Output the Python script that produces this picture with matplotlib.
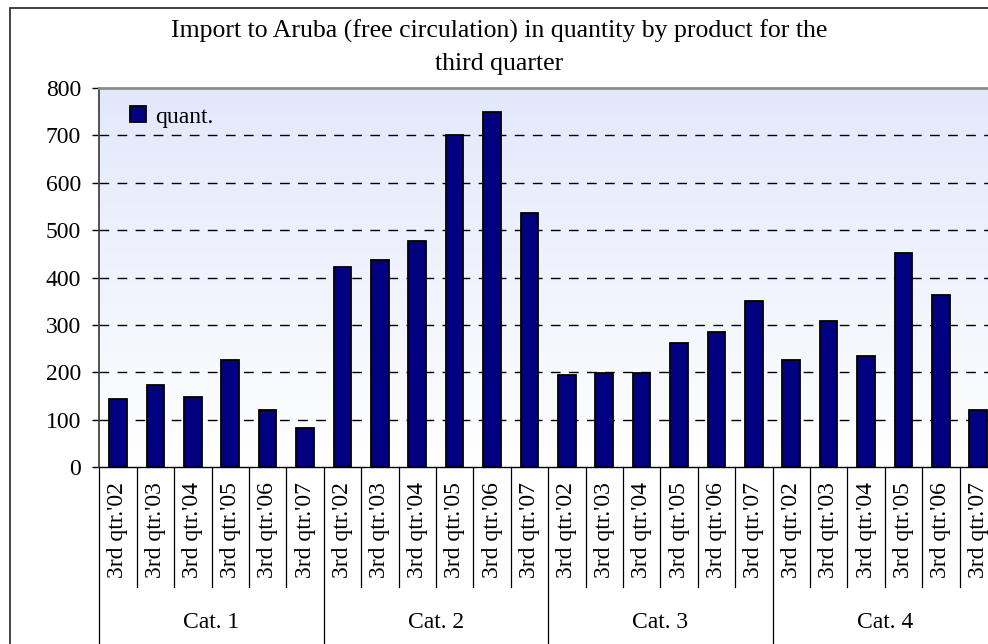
import numpy as np
import matplotlib

matplotlib.use("Agg")
import matplotlib.pyplot as plt
from matplotlib.patches import Rectangle

plt.rcParams["font.family"] = ["Liberation Serif", "DejaVu Serif"]

# data
categories = ["Cat. 1", "Cat. 2", "Cat. 3", "Cat. 4"]
quarters = ["3rd qtr.'02", "3rd qtr.'03", "3rd qtr.'04", "3rd qtr.'05", "3rd qtr.'06", "3rd qtr.'07"]
cat1 = [143, 174, 147, 225, 120, 83]
cat2 = [423, 437, 478, 700, 750, 537]
cat3 = [194, 198, 198, 262, 285, 350]
cat4 = [225, 308, 235, 451, 364, 120]
series_label = "quant."
title = "Import to Aruba (free circulation) in quantity by product for the\nthird quarter"
y_ticks = [0, 100, 200, 300, 400, 500, 600, 700, 800]

W, H = 988, 644
FS = 17

values = cat1 + cat2 + cat3 + cat4
n_per = len(quarters)
n = len(values)
x = np.arange(n)

fig = plt.figure(figsize=(W / 100, H / 100), dpi=100)
x0, x1 = 99.3, 99.3 + 24 * 37.4
y_top, y_zero = 88, 467
ax = fig.add_axes([x0 / W, (H - y_zero) / H, (x1 - x0) / W, (y_zero - y_top) / H])

# outer chart frame
fig.patches.append(Rectangle((10 / W, -0.1), 1.2, 1.1 - 8 / H, transform=fig.transFigure,
                             fill=False, edgecolor="#333333", linewidth=1.3))

# background gradient of the plot area: light blue at top fading to white
grad = np.linspace(0, 1, 256).reshape(-1, 1)
top_c = np.array([226, 232, 252]) / 255
bot_c = np.array([255, 255, 255]) / 255
img = top_c * (1 - grad[..., None]) + bot_c * grad[..., None]
img = np.repeat(img, 2, axis=1)
ax.imshow(img, extent=(-0.5, n - 0.5, 0, 800), aspect="auto", zorder=0, origin="upper")

ax.bar(x, values, width=0.47, color="#000080", edgecolor="black", linewidth=1.3,
       label=series_label, zorder=3)

ax.set_xlim(-0.5, n - 0.5)
ax.set_ylim(0, 800)
ax.set_yticks(y_ticks)
ax.tick_params(axis="y", direction="out", length=5, width=1, pad=8, labelsize=FS, colors="black")
for yv in y_ticks[1:-1]:
    ax.axhline(yv, color="black", linewidth=1, linestyle=(0, (7, 6)), zorder=1)

ax.set_xticks(x)
ax.set_xticklabels(quarters * len(categories), rotation=90, va="top", fontsize=FS)
ax.tick_params(axis="x", length=0, pad=11)

ax.spines["top"].set_color("#8c8c8c")
ax.spines["top"].set_linewidth(2)
ax.spines["left"].set_color("#444444")
ax.spines["left"].set_linewidth(1.3)
ax.spines["bottom"].set_color("black")
ax.spines["bottom"].set_linewidth(1)
ax.spines["right"].set_visible(False)

# separators under the axis
xt = ax.get_xaxis_transform()
low_short = (y_zero - 587) / (y_zero - y_top)
low_long = (y_zero - 660) / (y_zero - y_top)
for i in range(n + 1):
    xb = i - 0.5
    bottom = low_long if i % n_per == 0 else low_short
    ax.plot([xb, xb], [0, bottom], transform=xt, color="black", linewidth=0.9, clip_on=False)

cat_y = (y_zero - 622) / (y_zero - y_top)
for k, cat in enumerate(categories):
    ax.text(k * n_per + (n_per - 1) / 2, cat_y, cat, transform=xt, ha="center", va="center",
            fontsize=FS)

ax.legend(loc="upper left", bbox_to_anchor=(0.016, 0.995), frameon=False, fontsize=FS,
          handlelength=0.65, handleheight=0.65, handletextpad=0.4, borderpad=0.2)

fig.text(499 / W, 1 - 47 / H, title, ha="center", va="center", fontsize=18.5,
         linespacing=1.6)

fig.savefig("out.png", dpi=100)
